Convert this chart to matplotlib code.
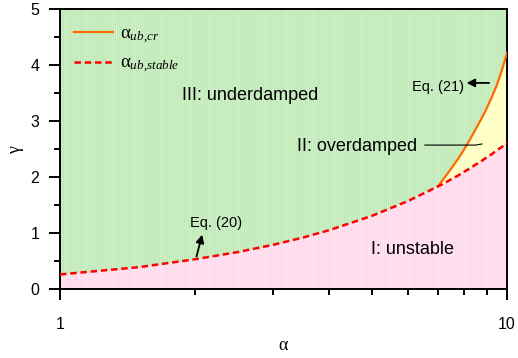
import numpy as np
import matplotlib
matplotlib.use("Agg")
import matplotlib.pyplot as plt
from matplotlib.ticker import LogLocator, MultipleLocator, FixedFormatter, NullFormatter, FixedLocator

plt.rcParams['font.family'] = ['Liberation Sans', 'DejaVu Sans']
plt.rcParams['mathtext.fontset'] = 'custom'
plt.rcParams['mathtext.rm'] = 'Liberation Serif'
plt.rcParams['mathtext.it'] = 'Liberation Serif:italic'
plt.rcParams['hatch.linewidth'] = 1.0

# datos
alpha = [1, 1.5, 2, 2.5, 3, 3.5, 4, 5, 6, 7, 7.25, 7.5, 7.75, 8, 8.25, 8.5,
         8.75, 9, 9.25, 9.5, 9.75, 10]
gamma_stable = [0.26, 0.39, 0.53, 0.66, 0.79, 0.92, 1.05, 1.31, 1.57, 1.83,
                1.89, 1.96, 2.02, 2.09, 2.15, 2.22, 2.28, 2.35, 2.41, 2.48,
                2.54, 2.61]
alpha_cr = [7, 7.25, 7.5, 7.75, 8, 8.25, 8.5, 8.75, 9, 9.25, 9.5, 9.75, 10]
gamma_cr = [1.83, 1.99, 2.15, 2.31, 2.48, 2.66, 2.85, 3.03, 3.22, 3.43,
            3.65, 3.92, 4.22]

n_cr = len(alpha_cr)
gamma_top = [5.0] * len(alpha)
gamma_upper = gamma_stable[:-n_cr] + gamma_cr  # limite de la zona verde

fig = plt.figure(figsize=(5.18, 3.58), dpi=100)
ax = fig.add_axes([0.1158, 0.1927, 0.8630, 0.7822])
ax.set_xscale('log')

# zonas
ax.fill_between(alpha, 0, gamma_stable, facecolor='#ffeef7', edgecolor='#ffd6ea',
                hatch='|' * 8, linewidth=0, zorder=0)
ax.fill_between(alpha, gamma_upper, gamma_top, facecolor='#d6f3d0', edgecolor='#bfe9b6',
                hatch='|' * 8, linewidth=0, zorder=0)
ax.fill_between(alpha_cr, gamma_stable[-n_cr:], gamma_cr, facecolor='#ffffe0', edgecolor='#ffffbc',
                hatch='|' * 8, linewidth=0, zorder=0)

# curvas
ax.plot(alpha_cr, gamma_cr, color='#ff6a00', lw=1.6, label=r'$\mathrm{\alpha}_{ub{,}cr}$', zorder=3)
ax.plot(alpha, gamma_stable, color='#ff0000', lw=1.8, dashes=(2.6, 1.5),
        label=r'$\mathrm{\alpha}_{ub{,}stable}$', zorder=3)

# textos
ax.text(2.66, 3.46, 'III: underdamped', fontsize=13, ha='center', va='center')
ax.text(4.63, 2.54, 'II: overdamped', fontsize=13, ha='center', va='center')
ax.text(6.16, 0.71, 'I: unstable', fontsize=13, ha='center', va='center')
ax.plot([6.55, 8.5, 8.79], [2.57, 2.57, 2.59], color='black', lw=0.8, zorder=4)

ax.text(2.23, 1.18, 'Eq. (20)', fontsize=10.5, ha='center', va='center')
ax.annotate('', xy=(2.08, 0.97), xytext=(2.02, 0.58),
            arrowprops=dict(arrowstyle='-|>', color='black', lw=1.3, mutation_scale=12,
                            shrinkA=0, shrinkB=0), zorder=5)
ax.text(7.02, 3.6, 'Eq. (21)', fontsize=10.5, ha='center', va='center')
ax.annotate('', xy=(8.12, 3.68), xytext=(9.12, 3.68),
            arrowprops=dict(arrowstyle='-|>', color='black', lw=1.3, mutation_scale=12,
                            shrinkA=0, shrinkB=0), zorder=5)

# ejes
ax.set_xlim(1, 10)
ax.set_ylim(0, 5)
ax.xaxis.set_major_locator(FixedLocator([1, 10]))
ax.xaxis.set_major_formatter(FixedFormatter(['1', '10']))
ax.xaxis.set_minor_locator(LogLocator(base=10, subs=np.arange(2, 10)))
ax.xaxis.set_minor_formatter(NullFormatter())
ax.yaxis.set_major_locator(MultipleLocator(1))
ax.yaxis.set_minor_locator(MultipleLocator(0.5))

for s in ax.spines.values():
    s.set_linewidth(1.4)
ax.tick_params(axis='both', which='major', direction='out', length=8, width=1.4, labelsize=11.5)
ax.tick_params(axis='both', which='minor', direction='out', length=4.5, width=1.4)
ax.tick_params(axis='x', which='major', pad=12)
ax.tick_params(axis='y', which='major', pad=7)

ax.set_xlabel(r'$\mathrm{\alpha}$', fontsize=13, labelpad=4)
ax.set_ylabel(r'$\mathrm{\gamma}$', fontsize=13, labelpad=3)

leg = ax.legend(loc='upper left', frameon=False, fontsize=13.5, handlelength=2.1,
                handletextpad=0.35, labelspacing=0.5, borderaxespad=0.35,
                bbox_to_anchor=(0.0, 0.99))

fig.savefig('out.png', dpi=100)
